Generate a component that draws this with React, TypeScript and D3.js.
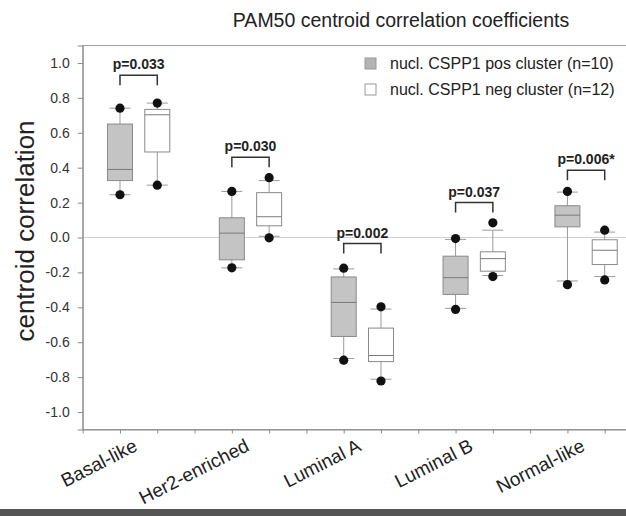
import * as d3 from "d3";
import { useEffect, useRef } from "react";

const categories = ["Basal-like", "Her2-enriched", "Luminal A", "Luminal B", "Normal-like"];
const pLabels = ["p=0.033", "p=0.030", "p=0.002", "p=0.037", "p=0.006*"];
const bracketLevels = [0.93, 0.46, -0.035, 0.2, 0.385];

// nucl. CSPP1 pos cluster
const posLowDot = [0.245, -0.174, -0.703, -0.412, -0.27];
const posLowWhisker = [0.245, -0.174, -0.693, -0.406, -0.249];
const posQ1 = [0.326, -0.128, -0.567, -0.326, 0.061];
const posMedian = [0.39, 0.025, -0.372, -0.23, 0.128];
const posQ3 = [0.65, 0.113, -0.226, -0.107, 0.182];
const posHighWhisker = [0.741, 0.264, -0.18, -0.011, 0.26];
const posHighDot = [0.741, 0.264, -0.176, -0.006, 0.264];

// nucl. CSPP1 neg cluster
const negLowDot = [0.3, -0.002, -0.822, -0.224, -0.243];
const negLowWhisker = [0.3, 0.007, -0.812, -0.218, -0.224];
const negQ1 = [0.49, 0.067, -0.711, -0.193, -0.155];
const negMedian = [0.703, 0.119, -0.676, -0.121, -0.073];
const negQ3 = [0.734, 0.257, -0.519, -0.082, -0.013];
const negHighWhisker = [0.77, 0.326, -0.41, 0.042, 0.031];
const negHighDot = [0.77, 0.343, -0.397, 0.084, 0.042];

const legendLabels = ["nucl. CSPP1 pos cluster (n=10)", "nucl. CSPP1 neg cluster (n=12)"];
const yTicks = [-1, -0.8, -0.6, -0.4, -0.2, 0, 0.2, 0.4, 0.6, 0.8, 1];

const FONT = "'Liberation Sans', Arial, sans-serif";

function Chart() {
    const ref = useRef<SVGSVGElement>(null);

    useEffect(() => {
        const svg = d3.select(ref.current);
        svg.selectAll("*").remove();

        const width = 626;
        const height = 516;

        const x = d3.scaleLinear().domain([0, 15]).range([82.7, 642]);
        const y = d3.scaleLinear().domain([-1.1, 1.1]).range([429.5, 45.5]);
        const boxW = 25;
        const capW = 21;

        svg.append("rect").attr("width", width).attr("height", height).attr("fill", "#fff");

        // frame
        svg.append("rect")
            .attr("x", x(0)).attr("y", y(1.1))
            .attr("width", x(15) - x(0)).attr("height", y(-1.1) - y(1.1))
            .attr("fill", "none").attr("stroke", "#a0a0a0");

        // zero line
        svg.append("line")
            .attr("x1", x(0)).attr("x2", x(15))
            .attr("y1", y(0)).attr("y2", y(0))
            .attr("stroke", "#d0d0d0");

        // axes
        const yAxis = svg.append("g")
            .attr("transform", `translate(${x(0)},0)`)
            .call(d3.axisLeft(y).tickValues(yTicks).tickSize(5).tickPadding(8)
                .tickFormat(d => (d as number).toFixed(1)));
        yAxis.selectAll("path,line").attr("stroke", "#8a8a8a");
        yAxis.selectAll("text").attr("font-size", 14).attr("font-family", FONT).attr("fill", "#333");

        const xAxis = svg.append("g")
            .attr("transform", `translate(0,${y(-1.1)})`)
            .call(d3.axisBottom(x).tickValues(d3.range(0, 16)).tickSize(4).tickSizeOuter(0).tickFormat(() => ""));
        xAxis.selectAll("path,line").attr("stroke", "#8a8a8a");

        // category labels
        svg.append("g").selectAll("text")
            .data(categories)
            .enter()
            .append("text")
            .attr("transform", (d, i) => `translate(${x(3 * i + 1.5)},450) rotate(-27)`)
            .attr("text-anchor", "end")
            .attr("font-size", 19)
            .attr("font-family", FONT)
            .attr("fill", "#222")
            .text(d => d);

        const groups = [
            { offset: 1, fill: "#c4c4c4", lo: posLowDot, lw: posLowWhisker, q1: posQ1, med: posMedian, q3: posQ3, hw: posHighWhisker, hi: posHighDot },
            { offset: 2, fill: "#ffffff", lo: negLowDot, lw: negLowWhisker, q1: negQ1, med: negMedian, q3: negQ3, hw: negHighWhisker, hi: negHighDot },
        ];

        groups.forEach(g => {
            const gg = svg.append("g");
            categories.forEach((c, i) => {
                const cx = x(3 * i + g.offset);
                // whiskers
                gg.append("line").attr("x1", cx).attr("x2", cx)
                    .attr("y1", y(g.lw[i])).attr("y2", y(g.hw[i]))
                    .attr("stroke", "#9a9a9a");
                [g.lw[i], g.hw[i]].forEach(v => {
                    gg.append("line").attr("x1", cx - capW / 2).attr("x2", cx + capW / 2)
                        .attr("y1", y(v)).attr("y2", y(v))
                        .attr("stroke", "#9a9a9a");
                });
                // box
                gg.append("rect")
                    .attr("x", cx - boxW / 2).attr("y", y(g.q3[i]))
                    .attr("width", boxW).attr("height", y(g.q1[i]) - y(g.q3[i]))
                    .attr("fill", g.fill).attr("stroke", "#8a8a8a");
                gg.append("line").attr("x1", cx - boxW / 2).attr("x2", cx + boxW / 2)
                    .attr("y1", y(g.med[i])).attr("y2", y(g.med[i]))
                    .attr("stroke", "#7a7a7a");
                // extreme dots
                [g.lo[i], g.hi[i]].forEach(v => {
                    gg.append("circle").attr("cx", cx).attr("cy", y(v)).attr("r", 4.6).attr("fill", "#111");
                });
            });
        });

        // p-value brackets
        const br = svg.append("g");
        categories.forEach((c, i) => {
            const x1 = x(3 * i + 1);
            const x2 = x(3 * i + 2);
            const by = y(bracketLevels[i]);
            br.append("path")
                .attr("d", `M${x1},${by + 10}V${by}H${x2}V${by + 10}`)
                .attr("fill", "none").attr("stroke", "#333").attr("stroke-width", 1.5);
            br.append("text")
                .attr("x", (x1 + x2) / 2).attr("y", by - 6)
                .attr("text-anchor", "middle")
                .attr("font-size", 14).attr("font-weight", "bold")
                .attr("font-family", FONT).attr("fill", "#222")
                .text(pLabels[i]);
        });

        // title
        svg.append("text")
            .attr("x", 401).attr("y", 27)
            .attr("text-anchor", "middle")
            .attr("font-size", 19.5).attr("font-family", FONT).attr("fill", "#222")
            .text("PAM50 centroid correlation coefficients");

        // y label
        svg.append("text")
            .attr("transform", "translate(34,231) rotate(-90)")
            .attr("text-anchor", "middle")
            .attr("font-size", 26).attr("font-family", FONT).attr("fill", "#222")
            .text("centroid correlation");

        // legend
        const legend = svg.append("g").attr("transform", "translate(365,58)");
        legendLabels.forEach((l, i) => {
            legend.append("rect")
                .attr("x", 0).attr("y", i * 26)
                .attr("width", 11).attr("height", 11)
                .attr("fill", i === 0 ? "#b4b4b4" : "#fff").attr("stroke", "#999");
            legend.append("text")
                .attr("x", 25).attr("y", i * 26 + 10.5)
                .attr("font-size", 16).attr("font-family", FONT).attr("fill", "#222")
                .text(l);
        });

        // bottom band
        svg.append("rect").attr("x", 0).attr("y", 509).attr("width", width).attr("height", 7).attr("fill", "#555");
    }, []);

    return <svg ref={ref} width={626} height={516} style={{ position: "absolute", left: 0, top: 0 }} />;
}

export default function App() {
    return <Chart />;
}
